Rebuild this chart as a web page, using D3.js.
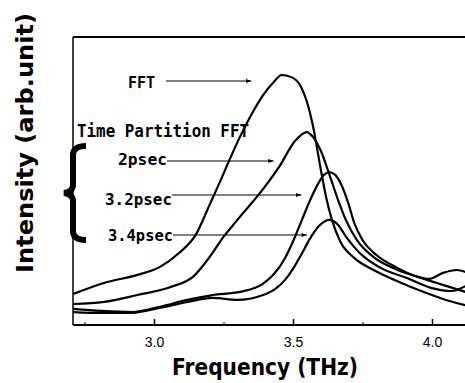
<!DOCTYPE html>
<meta charset="utf-8">
<script src="https://cdn.jsdelivr.net/npm/d3@7"></script>
<style>
  body { margin: 0; background: #fff; }
</style>
<div id="chart"></div>
<script>

// frequency (THz) and intensity (arb. unit, 0-100)
var fftFreq = [2.71, 2.82, 2.94, 3.02, 3.09, 3.15, 3.20, 3.24, 3.27, 3.31, 3.35, 3.39, 3.43, 3.46, 3.50, 3.53, 3.55, 3.57, 3.60, 3.62, 3.64, 3.67, 3.72, 3.79, 3.89, 3.98, 4.05, 4.12];
var fftVal  = [10.8, 14.6, 17.4, 20.1, 25.0, 31.3, 41.7, 50.3, 57.0, 65.5, 73.0, 79.5, 84.3, 86.8, 85.8, 82.5, 77.5, 70.0, 54.0, 44.0, 36.5, 29.0, 23.3, 19.1, 14.6, 11.1, 8.7, 6.9];

var p2Freq = [2.71, 2.82, 2.94, 3.06, 3.14, 3.20, 3.25, 3.30, 3.39, 3.45, 3.51, 3.55, 3.57, 3.60, 3.63, 3.66, 3.69, 3.73, 3.79, 3.86, 3.95, 4.03, 4.12];
var p2Val  = [7.3, 8.0, 10.4, 13.2, 16.7, 23.6, 30.6, 36.5, 46.9, 54.9, 64.2, 67.0, 65.5, 60.5, 52.5, 44.0, 36.5, 29.5, 23.6, 19.8, 16.7, 14.2, 11.5];

var p32Freq = [2.71, 2.81, 2.92, 3.02, 3.12, 3.21, 3.31, 3.39, 3.43, 3.47, 3.50, 3.53, 3.56, 3.59, 3.61, 3.63, 3.65, 3.67, 3.70, 3.72, 3.75, 3.80, 3.87, 3.95, 3.99, 4.04, 4.09, 4.12];
var p32Val  = [5.6, 4.9, 4.5, 6.3, 8.7, 10.4, 11.5, 14.2, 17.5, 23.0, 29.0, 36.0, 43.0, 49.0, 52.0, 53.1, 52.3, 49.5, 42.0, 35.5, 29.5, 24.3, 20.1, 16.7, 16.0, 18.1, 19.1, 18.4];

var p34Freq = [2.71, 2.81, 2.92, 3.02, 3.12, 3.21, 3.30, 3.39, 3.44, 3.47, 3.50, 3.53, 3.56, 3.59, 3.63, 3.66, 3.69, 3.74, 3.81, 3.91, 4.00, 4.07, 4.12];
var p34Val  = [4.5, 4.2, 4.2, 5.9, 8.0, 9.4, 8.7, 10.3, 12.8, 15.5, 19.5, 24.5, 29.8, 34.0, 36.5, 35.0, 30.8, 25.0, 20.1, 16.3, 12.8, 11.8, 13.5];

var majorTicks = [3.0, 3.5, 4.0];
var minorTicks = [2.75, 3.25, 3.75];

// labels with the point each leader line ends at (freq, intensity)
var labels = ["FFT", "2psec", "3.2psec", "3.4psec"];
var labelEnd = [[3.35, 84.4], [3.43, 57.3], [3.53, 45.1], [3.55, 31.3]];

var W = 465, H = 383;
var plot = {left: 73, right: 465, top: 37, bottom: 325};

var svg = d3.select("#chart").append("svg")
  .attr("width", W).attr("height", H);
svg.append("rect").attr("width", W).attr("height", H).attr("fill", "#fff");

var x = d3.scaleLinear().domain([3.0, 4.0]).range([154, 432]);
var y = d3.scaleLinear().domain([0, 100]).range([plot.bottom, plot.top]);

svg.append("defs").append("clipPath").attr("id", "clip")
  .append("rect")
    .attr("x", plot.left).attr("y", plot.top)
    .attr("width", plot.right - plot.left).attr("height", plot.bottom - plot.top);

svg.select("defs").append("marker")
    .attr("id", "arrow")
    .attr("viewBox", "0 0 8 6")
    .attr("refX", 8).attr("refY", 3)
    .attr("markerWidth", 6).attr("markerHeight", 4)
    .attr("markerUnits", "userSpaceOnUse")
    .attr("orient", "auto")
  .append("path").attr("d", "M0,0L8,3L0,6Z").attr("fill", "#000");

// frame: left and top lines, bottom axis
svg.append("line")
  .attr("x1", plot.left).attr("x2", plot.left)
  .attr("y1", plot.top).attr("y2", plot.bottom)
  .attr("stroke", "#000").attr("stroke-width", 1.5);
svg.append("line")
  .attr("x1", plot.left).attr("x2", plot.right)
  .attr("y1", plot.top).attr("y2", plot.top)
  .attr("stroke", "#000").attr("stroke-width", 2);

var xAxis = svg.append("g")
  .attr("transform", "translate(0," + plot.bottom + ")")
  .call(d3.axisBottom(x).tickValues(majorTicks).tickSizeInner(-6).tickSizeOuter(0)
        .tickPadding(12).tickFormat(d3.format(".1f")));
xAxis.select(".domain").remove();
xAxis.selectAll("line").attr("stroke-width", 1.5);
xAxis.selectAll("text")
  .attr("font-family", "Liberation Sans, Arial, sans-serif")
  .attr("font-size", 14).attr("fill", "#000");

svg.append("g")
  .attr("transform", "translate(0," + plot.bottom + ")")
  .call(d3.axisBottom(x).tickValues(minorTicks).tickSizeInner(-3).tickSizeOuter(0).tickFormat(""))
  .call(function(g) { g.select(".domain").remove(); });

svg.append("line")
  .attr("x1", plot.left).attr("x2", plot.right)
  .attr("y1", plot.bottom).attr("y2", plot.bottom)
  .attr("stroke", "#000").attr("stroke-width", 2);

// curves
var line = d3.line()
  .x(function(d) { return x(d[0]); })
  .y(function(d) { return y(d[1]); })
  .curve(d3.curveMonotoneX);

var series = [
  d3.zip(fftFreq, fftVal),
  d3.zip(p2Freq, p2Val),
  d3.zip(p32Freq, p32Val),
  d3.zip(p34Freq, p34Val)
];

svg.append("g").attr("clip-path", "url(#clip)")
  .selectAll("path")
  .data(series)
  .enter()
  .append("path")
    .attr("d", line)
    .attr("fill", "none")
    .attr("stroke", "#000")
    .attr("stroke-width", 2.2)
    .attr("stroke-linejoin", "round");

// annotation texts and leader lines
var mono = "DejaVu Sans Mono, monospace";
var labelPos = [[128, 88, 27], [118, 165, 49], [105, 205, 67], [108, 241, 65]];
var lineStart = [[166, 81], [167, 161], [172, 195], [173, 235]];

svg.selectAll("text.lab")
  .data(labels)
  .enter()
  .append("text")
    .attr("class", "lab")
    .attr("x", function(d, i) { return labelPos[i][0]; })
    .attr("y", function(d, i) { return labelPos[i][1]; })
    .attr("textLength", function(d, i) { return labelPos[i][2]; })
    .attr("lengthAdjust", "spacingAndGlyphs")
    .attr("font-family", mono)
    .attr("font-weight", "bold")
    .attr("font-size", 16)
    .text(function(d) { return d; });

svg.selectAll("line.lead")
  .data(labels)
  .enter()
  .append("line")
    .attr("class", "lead")
    .attr("x1", function(d, i) { return lineStart[i][0]; })
    .attr("y1", function(d, i) { return lineStart[i][1]; })
    .attr("x2", function(d, i) { return x(labelEnd[i][0]); })
    .attr("y2", function(d, i) { return lineStart[i][1]; })
    .attr("stroke", "#000")
    .attr("stroke-width", 1.2)
    .attr("marker-end", "url(#arrow)");

svg.append("text")
  .attr("x", 77).attr("y", 137)
  .attr("textLength", 172).attr("lengthAdjust", "spacingAndGlyphs")
  .attr("font-family", mono).attr("font-weight", "bold").attr("font-size", 17)
  .text("Time Partition FFT");

// brace grouping the time partition labels
svg.append("path")
  .attr("d", "M86,146 Q74,146 73,154 L73,186 Q72,192 64,193 Q72,194 73,200 L73,232 Q74,240 86,240")
  .attr("fill", "none")
  .attr("stroke", "#000")
  .attr("stroke-width", 6)
  .attr("stroke-linecap", "butt");

// axis titles
svg.append("text")
  .attr("x", 172).attr("y", 375)
  .attr("textLength", 186).attr("lengthAdjust", "spacingAndGlyphs")
  .attr("font-family", "DejaVu Sans, sans-serif")
  .attr("font-weight", "bold").attr("font-size", 23)
  .text("Frequency (THz)");

svg.append("text")
  .attr("transform", "translate(33,273) rotate(-90)")
  .attr("x", 0).attr("y", 0)
  .attr("textLength", 260).attr("lengthAdjust", "spacingAndGlyphs")
  .attr("font-family", "DejaVu Sans, sans-serif")
  .attr("font-weight", "bold").attr("font-size", 23)
  .text("Intensity (arb.unit)");

</script>
